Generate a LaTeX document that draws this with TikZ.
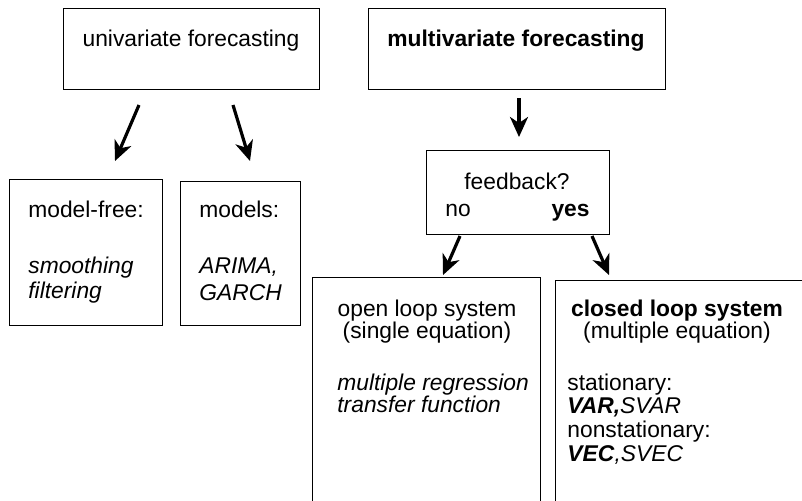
\documentclass[tikz,border=0pt]{standalone}
\usepackage{fontspec}
\setmainfont{Liberation Sans}
\usetikzlibrary{arrows.meta}

\tikzset{
  box/.style={draw, line width=0.6pt, inner sep=0pt, anchor=north west},
  txt/.style={inner sep=0pt, font=\fontsize{11.4}{11}\selectfont},
  arr/.style={line width=1.6pt, -{Stealth[length=10pt,width=9pt,inset=3pt]}}
}

\begin{document}
\begin{tikzpicture}[x=0.5pt,y=-0.5pt]
      \useasboundingbox (0,0) rectangle (802,500);
      \clip (0,0) rectangle (802,500);

      % upper row
      \node[box, minimum width=128pt, minimum height=40.5pt] (uni) at (63,8) {};
      \node[txt, anchor=base] (unitxt) at (191,46) {univariate forecasting};
      \node[box, minimum width=148.5pt, minimum height=40.5pt] (multi) at (368,8) {};
      \node[txt, anchor=base] (multitxt) at (516,46) {\bfseries multivariate forecasting};

      % univariate branches
      \node[box, minimum width=76.5pt, minimum height=73pt] (free) at (9,179) {};
      \node[txt, anchor=north west, align=left] (freetxt) at (28,200.4)
        {model-free:\\[17pt]\textit{smoothing}\\[1.5pt]\textit{filtering}};
      \node[box, minimum width=60pt, minimum height=72pt] (models) at (180,181) {};
      \node[txt, anchor=north west, align=left] (modelstxt) at (199,200.4)
        {models:\\[17pt]\textit{ARIMA,}\\[2.5pt]\textit{GARCH}};

      % feedback question
      \node[box, minimum width=91.5pt, minimum height=42pt] (fb) at (426,150) {};
      \node[txt, anchor=base] (fbtxt) at (517,189) {feedback?};
      \node[txt, anchor=base west] (no) at (445,216) {no};
      \node[txt, anchor=base east] (yes) at (590,216) {\bfseries yes};

      % loop systems, cut off at the bottom
      \node[box, minimum width=114pt, minimum height=125pt] (open) at (312,277) {};
      \node[txt, anchor=north, align=center] (openhead) at (427,299.4)
        {open loop system\\(single equation)};
      \node[txt, anchor=north west, align=left] (opentxt) at (337,373.4)
        {\textit{multiple regression}\\\textit{transfer function}};
      \node[box, minimum width=160pt, minimum height=125pt] (closed) at (555,280) {};
      \node[txt, anchor=north, align=center] (closedhead) at (677,299.4)
        {\textbf{closed loop system}\\(multiple equation)};
      \node[txt, anchor=north west, align=left] (closedtxt) at (567,373.4)
        {stationary:\\[0.5pt]\textbf{\textit{VAR,}}\textit{SVAR}\\[1pt]
         nonstationary:\\[1pt]\textbf{\textit{VEC}}\textit{,SVEC}};

      % arrows
      \coordinate (a1) at (139,105);  \coordinate (b1) at (115,161);
      \coordinate (a2) at (233,105);  \coordinate (b2) at (250,161);
      \coordinate (a3) at (519,98);   \coordinate (b3) at (519,137);
      \coordinate (a4) at (460,236);  \coordinate (b4) at (443,275);
      \coordinate (a5) at (592,236);  \coordinate (b5) at (609,275);
      \draw[arr] (a1) -- (b1);
      \draw[arr] (a2) -- (b2);
      \draw[arr] (a3) -- (b3);
      \draw[arr] (a4) -- (b4);
      \draw[arr] (a5) -- (b5);
    \end{tikzpicture}
\end{document}
